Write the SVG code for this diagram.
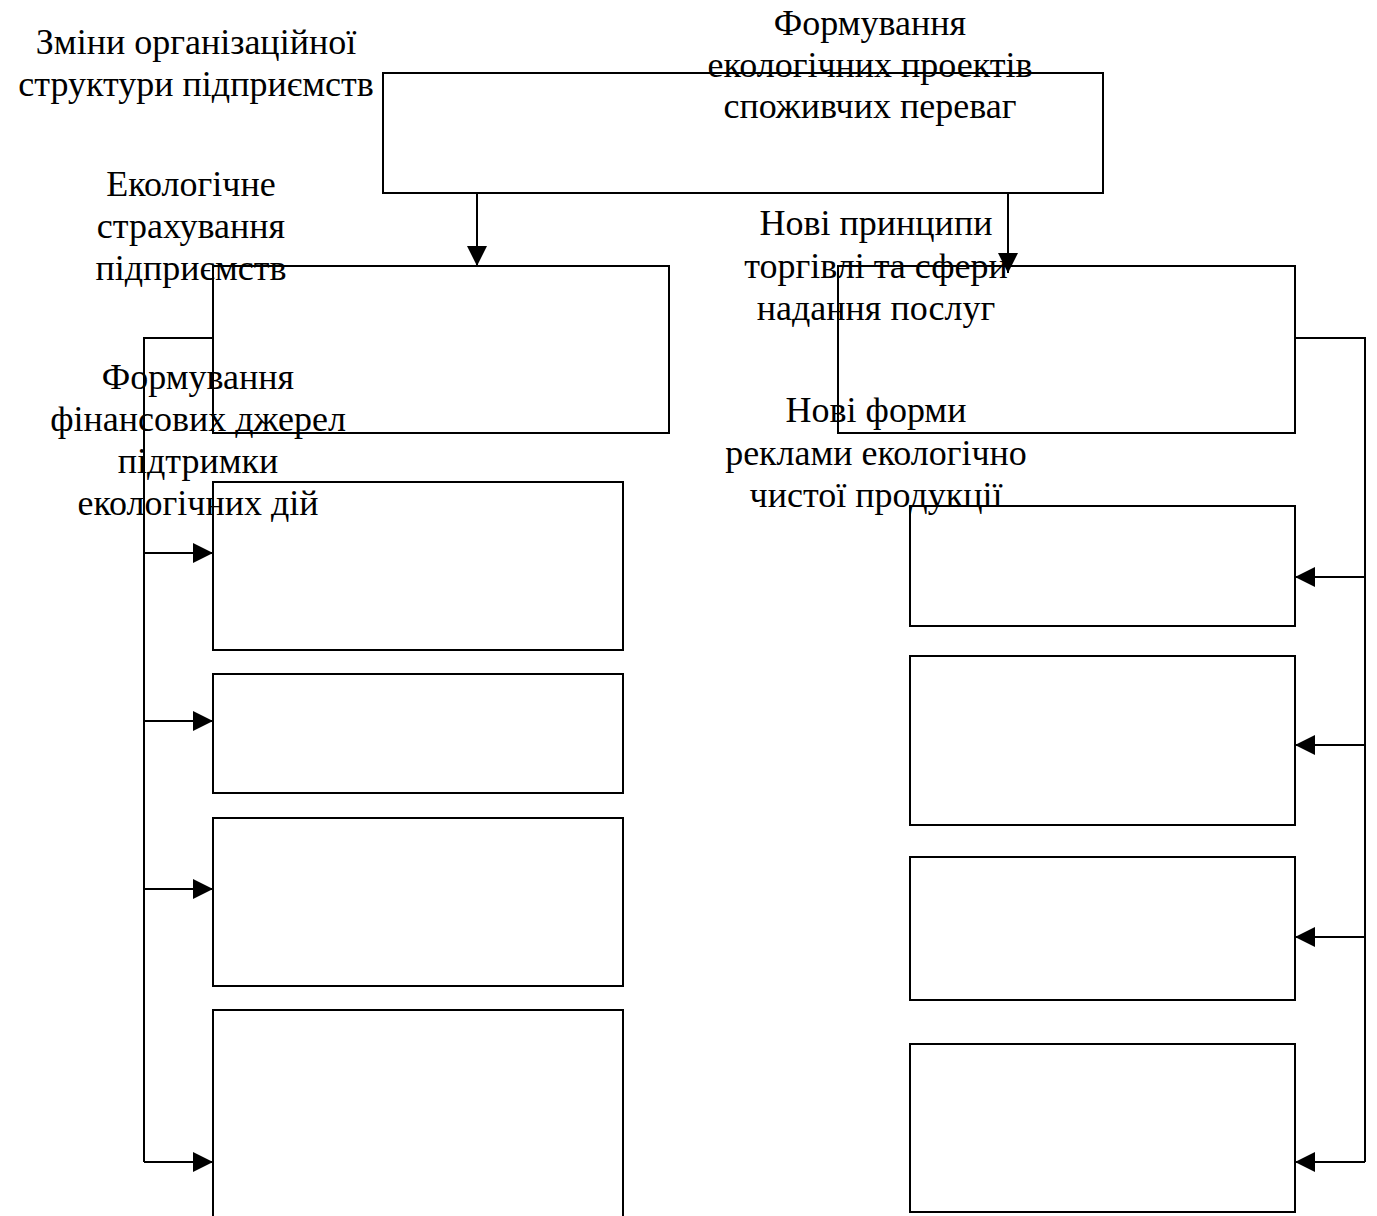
<svg xmlns="http://www.w3.org/2000/svg" width="1377" height="1216" viewBox="0 0 1377 1216">
<style>
.box{fill:none;stroke:#000;stroke-width:2}
.ln{fill:none;stroke:#000;stroke-width:2}
.t{font-family:"Liberation Serif","Times New Roman",serif;font-size:36px;fill:#000;text-anchor:middle}
</style>
<defs>
<marker id="ah" viewBox="0 0 20 20" refX="20" refY="10" markerWidth="20" markerHeight="20" markerUnits="userSpaceOnUse" orient="auto">
<path d="M0,0 L20,10 L0,20 Z" fill="#000"/>
</marker>
</defs>
<rect width="1377" height="1216" fill="#fff"/>
<g id="labels">
<text class="t" x="196" y="54">Зміни організаційної</text>
<text class="t" x="196" y="96">структури підприємств</text>
<text class="t" x="870" y="35">Формування</text>
<text class="t" x="870" y="77">екологічних проектів</text>
<text class="t" x="870" y="118">споживчих переваг</text>
<text class="t" x="191" y="196">Екологічне</text>
<text class="t" x="191" y="238">страхування</text>
<text class="t" x="191" y="280">підприємств</text>
<text class="t" x="198" y="389">Формування</text>
<text class="t" x="198" y="431">фінансових джерел</text>
<text class="t" x="198" y="473">підтримки</text>
<text class="t" x="198" y="515">екологічних дій</text>
<text class="t" x="876" y="235">Нові принципи</text>
<text class="t" x="876" y="278">торгівлі та сфери</text>
<text class="t" x="876" y="320">надання послуг</text>
<text class="t" x="876" y="422">Нові форми</text>
<text class="t" x="876" y="465">реклами екологічно</text>
<text class="t" x="876" y="507">чистої продукції</text>
</g>
<g id="top"><rect class="box" x="383" y="73" width="720" height="120"/></g>
<g id="left-main"><rect class="box" x="213" y="266" width="456" height="167"/></g>
<g id="right-main"><rect class="box" x="838" y="266" width="457" height="167"/></g>
<g id="l1"><rect class="box" x="213" y="482" width="410" height="168"/></g>
<g id="l2"><rect class="box" x="213" y="674" width="410" height="119"/></g>
<g id="l3"><rect class="box" x="213" y="818" width="410" height="168"/></g>
<g id="l4"><rect class="box" x="213" y="1010" width="410" height="220"/></g>
<g id="r1"><rect class="box" x="910" y="506" width="385" height="120"/></g>
<g id="r2"><rect class="box" x="910" y="656" width="385" height="169"/></g>
<g id="r3"><rect class="box" x="910" y="857" width="385" height="143"/></g>
<g id="r4"><rect class="box" x="910" y="1044" width="385" height="168"/></g>
<g id="connectors">
<path class="ln" d="M477,193 V266" marker-end="url(#ah)"/>
<path class="ln" d="M1008,193 V273" marker-end="url(#ah)"/>
<path class="ln" d="M213,338 H144 V1162"/>
<path class="ln" d="M144,553 H213" marker-end="url(#ah)"/>
<path class="ln" d="M144,721 H213" marker-end="url(#ah)"/>
<path class="ln" d="M144,889 H213" marker-end="url(#ah)"/>
<path class="ln" d="M144,1162 H213" marker-end="url(#ah)"/>
<path class="ln" d="M1295,338 H1365 V1162"/>
<path class="ln" d="M1365,577 H1295" marker-end="url(#ah)"/>
<path class="ln" d="M1365,745 H1295" marker-end="url(#ah)"/>
<path class="ln" d="M1365,937 H1295" marker-end="url(#ah)"/>
<path class="ln" d="M1365,1162 H1295" marker-end="url(#ah)"/>
</g>
</svg>
